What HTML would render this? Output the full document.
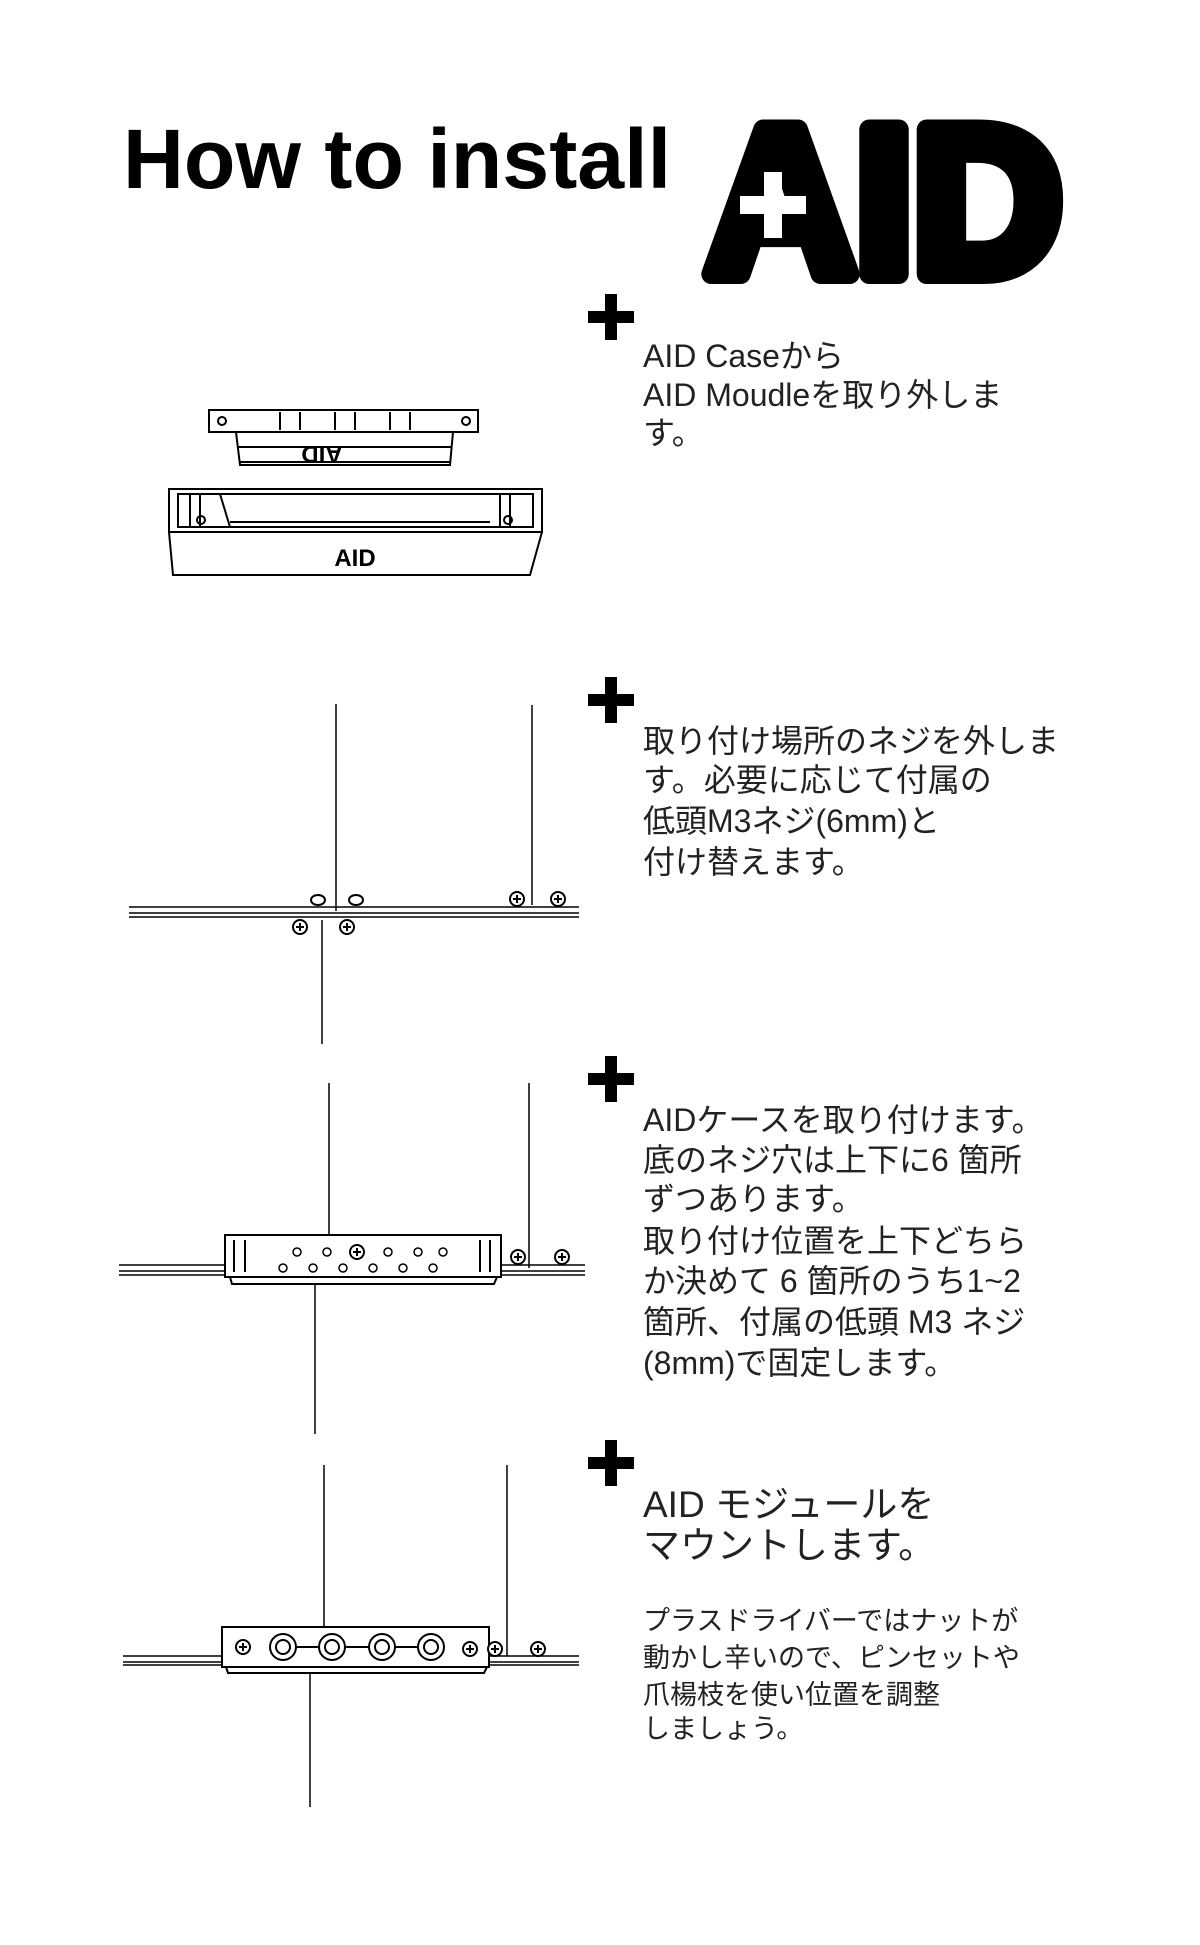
<!DOCTYPE html>
<html><head><meta charset="utf-8"><style>
html,body{margin:0;padding:0;background:#fff}
svg{display:block}
.t{font-family:"Liberation Sans","Noto Sans CJK JP",sans-serif;fill:#222}
</style></head><body>
<svg width="1200" height="1945" viewBox="0 0 1200 1945" xmlns="http://www.w3.org/2000/svg">
<defs>
<g id="plus"><path d="M17 0h12v17h17v12H29v17H17V29H0V17h17z" fill="#000"/></g>
<g id="scr"><circle r="7" fill="#fff" stroke="#000" stroke-width="2"/><path d="M-4 0h8M0-4v8" stroke="#000" stroke-width="2"/></g>
<g id="hole"><ellipse rx="7" ry="5" fill="#fff" stroke="#000" stroke-width="2"/></g>
</defs>
<!-- Title -->
<text x="123" y="188" class="t" style="font-weight:bold;fill:#000" font-size="84" textLength="548" lengthAdjust="spacingAndGlyphs">How to install</text>
<text x="706" y="274" class="t" style="font-weight:bold;fill:#000;stroke:#000;stroke-width:20;stroke-linejoin:round" font-size="210" textLength="356" lengthAdjust="spacingAndGlyphs">AID</text>
<path d="M764 172h18v24h24v18h-24v24h-18v-24h-24v-18h24z" fill="#fff"/>

<!-- plus icons -->
<use href="#plus" x="588" y="294"/>
<use href="#plus" x="588" y="677"/>
<use href="#plus" x="588" y="1056"/>
<use href="#plus" x="588" y="1440"/>

<!-- Step 1 text -->
<g class="t" font-size="32">
<text x="643" y="367">AID Caseから</text>
<text x="643" y="406">AID Moudleを取り外しま</text>
<text x="643" y="444">す。</text>
</g>
<!-- Step 2 text -->
<g class="t" font-size="32">
<text x="643" y="752">取り付け場所のネジを外しま</text>
<text x="643" y="791">す。必要に応じて付属の</text>
<text x="643" y="832">低頭M3ネジ(6mm)と</text>
<text x="643" y="873">付け替えます。</text>
</g>
<!-- Step 3 text -->
<g class="t" font-size="32">
<text x="643" y="1131">AIDケースを取り付けます。</text>
<text x="643" y="1171">底のネジ穴は上下に6 箇所</text>
<text x="643" y="1210">ずつあります。</text>
<text x="643" y="1252">取り付け位置を上下どちら</text>
<text x="643" y="1292">か決めて 6 箇所のうち1~2</text>
<text x="643" y="1333">箇所、付属の低頭 M3 ネジ</text>
<text x="643" y="1374">(8mm)で固定します。</text>
</g>
<!-- Step 4 text -->
<g class="t" font-size="37">
<text x="643" y="1517">AID モジュールを</text>
<text x="643" y="1558">マウントします。</text>
</g>
<g class="t" font-size="27">
<text x="643" y="1630">プラスドライバーではナットが</text>
<text x="643" y="1667">動かし辛いので、ピンセットや</text>
<text x="643" y="1704">爪楊枝を使い位置を調整</text>
<text x="643" y="1738">しましょう。</text>
</g>

<g fill="none" stroke="#000" stroke-width="2">
<!-- Step1 module -->
<rect x="209" y="410" width="269" height="22" fill="#fff"/>
<circle cx="222" cy="421" r="4"/><circle cx="466" cy="421" r="4"/>
<path d="M236 432L240 465H450L453 432"/>
<path d="M238 447H452M240 462H450"/>
<path d="M280 412v18M300 412v18M335 412v18M355 412v18M390 412v18M410 412v18"/>
<!-- Step1 case -->
<path d="M169 489H542V532H169Z" fill="#fff"/>
<path d="M178 494H533V527H178Z"/>
<path d="M190 494V527M200 494V527M220 494L230 527M500 494V527M510 494V527"/>
<path d="M230 522H490"/>
<circle cx="201" cy="520" r="4"/><circle cx="508" cy="520" r="4"/>
<path d="M169 532L173 575H530L542 532"/>
</g>
<g font-family="Liberation Sans,sans-serif" font-weight="bold" fill="#000">
<text x="322" y="462" font-size="24" text-anchor="middle" transform="rotate(180 322 454)">AID</text>
<text x="355" y="566" font-size="24" text-anchor="middle">AID</text>
</g>

<!-- Step2 -->
<g stroke="#000" stroke-width="1.5" fill="none">
<path d="M336 704V911M532 705V905M322 920V1044"/>
<path d="M129 907H579M129 913H579M129 917H579"/>
</g>
<use href="#hole" x="318" y="900"/><use href="#hole" x="356" y="900"/>
<use href="#scr" x="517" y="899"/><use href="#scr" x="558" y="899"/>
<use href="#scr" x="300" y="927"/><use href="#scr" x="347" y="927"/>

<!-- Step3 -->
<g stroke="#000" stroke-width="1.5" fill="none">
<path d="M329 1083V1237M529 1083V1268M315 1284V1434"/>
<path d="M119 1265H585M119 1271H585M119 1275H585"/>
</g>
<g stroke="#000" stroke-width="2" fill="#fff">
<rect x="225" y="1235" width="276" height="42"/>
<path d="M230 1277L232 1284H494L497 1277" fill="none"/>
<path d="M234 1240V1272M245 1240V1272M480 1240V1272M490 1240V1272" fill="none"/>
</g>
<g fill="#fff" stroke="#000" stroke-width="1.5">
<circle cx="297" cy="1252" r="4"/><circle cx="327" cy="1252" r="4"/><circle cx="388" cy="1252" r="4"/><circle cx="418" cy="1252" r="4"/><circle cx="443" cy="1252" r="4"/>
<circle cx="283" cy="1268" r="4"/><circle cx="313" cy="1268" r="4"/><circle cx="343" cy="1268" r="4"/><circle cx="373" cy="1268" r="4"/><circle cx="403" cy="1268" r="4"/><circle cx="433" cy="1268" r="4"/>
</g>
<use href="#scr" x="357" y="1252"/>
<use href="#scr" x="518" y="1257"/><use href="#scr" x="562" y="1257"/>

<!-- Step4 -->
<g stroke="#000" stroke-width="1.5" fill="none">
<path d="M324 1465V1631M507 1465V1656M310 1672V1807"/>
<path d="M123 1656H579M123 1662H579M123 1665H579"/>
</g>
<g stroke="#000" stroke-width="2" fill="#fff">
<rect x="222" y="1627" width="267" height="40"/>
<path d="M226 1667L228 1673H484L487 1667" fill="none"/>
<path d="M283 1647H431"/>
</g>
<g stroke="#000" stroke-width="2" fill="#fff">
<circle cx="283" cy="1647" r="13"/><circle cx="283" cy="1647" r="7"/>
<circle cx="332" cy="1647" r="13"/><circle cx="332" cy="1647" r="7"/>
<circle cx="382" cy="1647" r="13"/><circle cx="382" cy="1647" r="7"/>
<circle cx="431" cy="1647" r="13"/><circle cx="431" cy="1647" r="7"/>
</g>
<use href="#scr" x="243" y="1647"/><use href="#scr" x="470" y="1649"/>
<use href="#scr" x="495" y="1649"/><use href="#scr" x="538" y="1649"/>
</svg>
</body></html>
